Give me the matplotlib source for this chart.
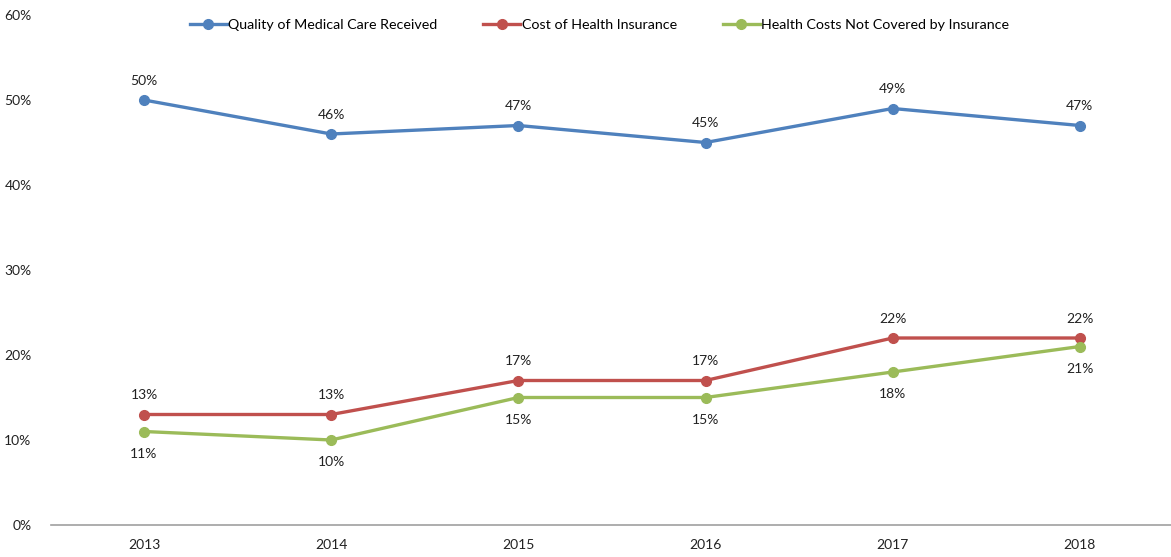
import matplotlib.pyplot as plt
import numpy as np

plt.rcParams['font.family'] = ['Lato', 'DejaVu Sans']

years = ['2013', '2014', '2015', '2016', '2017', '2018']
quality = [50, 46, 47, 45, 49, 47]
cost = [13, 13, 17, 17, 22, 22]
not_covered = [11, 10, 15, 15, 18, 21]

names = ['Quality of Medical Care Received', 'Cost of Health Insurance',
         'Health Costs Not Covered by Insurance']
colors = ['#4F81BD', '#C0504D', '#9BBB59']

fig = plt.figure(figsize=(11.71, 5.57), dpi=100)
ax = fig.add_axes([51 / 1171, 32 / 557, 1120 / 1171, 510 / 557])

x = np.arange(len(years))
series = [quality, cost, not_covered]
offsets = [14, 14, -16]  # label above / below
for vals, name, c, off in zip(series, names, colors, offsets):
    ax.plot(x, vals, color=c, lw=2.4, marker='o', ms=7, label=name)
    for xi, v in zip(x, vals):
        ax.annotate(f'{v}%', (xi, v), xytext=(0, off), textcoords='offset points',
                    ha='center', va='center', fontsize=10, color='#222222')

ax.set_xlim(-0.497, 5.487)
ax.set_ylim(0, 60)
ax.set_yticks(range(0, 61, 10))
ax.set_yticklabels([f'{t}%' for t in range(0, 61, 10)])
ax.set_xticks(x)
ax.set_xticklabels(years)
for s in ['top', 'right', 'left']:
    ax.spines[s].set_visible(False)
ax.spines['bottom'].set_color('#A0A0A0')
ax.spines['bottom'].set_linewidth(1.2)
ax.tick_params(axis='both', length=0, labelsize=10, colors='#222222')
ax.tick_params(axis='y', pad=14)
ax.tick_params(axis='x', pad=10)

fig.legend(loc='center', bbox_to_anchor=(0.512, 1 - 25 / 557), ncol=3, frameon=False,
           fontsize=10.3, handlelength=2.6, handletextpad=0.1, columnspacing=3.2)

fig.savefig('out.png', dpi=100)
